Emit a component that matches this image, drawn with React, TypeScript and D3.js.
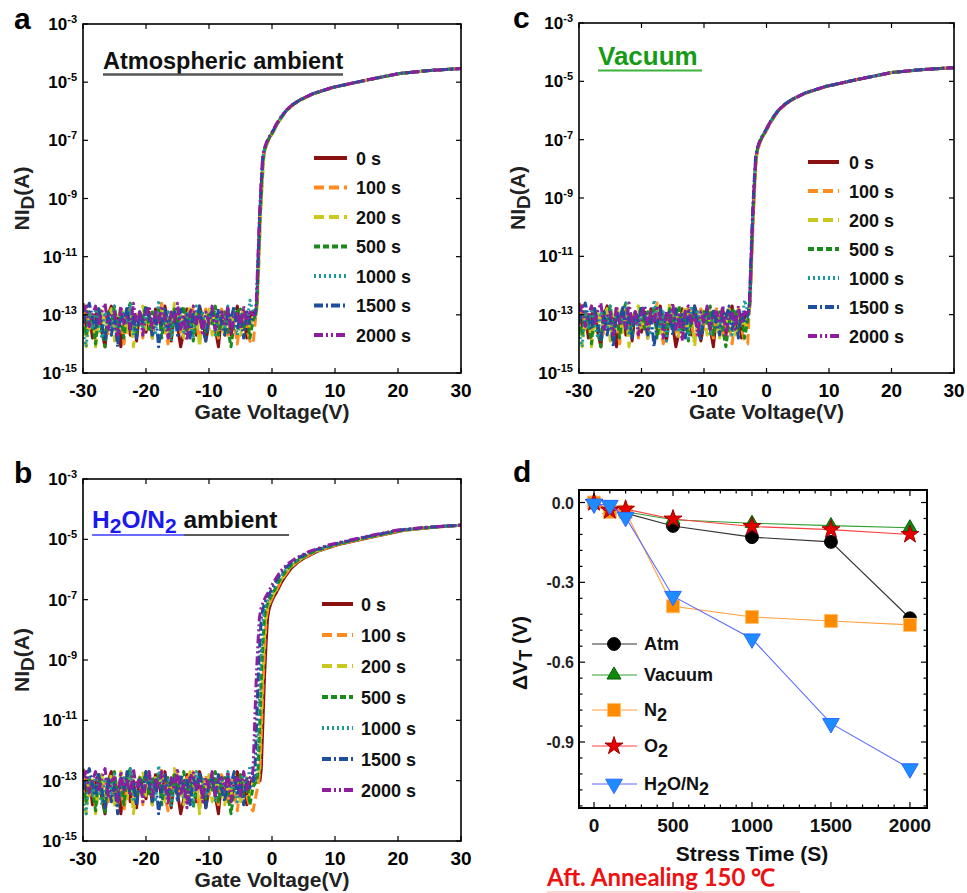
import React from 'react';
import * as d3 from 'd3';

// ---- transfer curves (panels a, b, c) ----
const stressLabels = ['0 s', '100 s', '200 s', '500 s', '1000 s', '1500 s', '2000 s'];
const curveColors = ['#8b1010', '#ff8a1e', '#c8c81e', '#1a8a1a', '#1a9a9a', '#1e4e9e', '#8e1e9e'];
const curveDash = ['', '10,5', '10,5', '6,3', '2,3', '9,3,2,3', '9,3,2,3,2,3'];

// off-state noise, log10(I) read every 0.5 V from -30 V
const gateStart = -30;
const gateStep = 0.5;
const offCurrent = [
  [-12.6, -13.4, -12.9, -13.8, -13.0, -12.8, -13.6, -14.1, -13.0, -12.7, -13.5, -13.1, -14.1, -13.3, -12.8, -13.7, -13.0, -13.9, -12.9, -13.2, -13.6, -12.9, -13.8, -12.8, -13.1, -13.5, -12.7, -13.3, -13.9, -13.0, -13.4, -14.1, -13.6, -12.8, -13.2, -12.9, -13.7, -12.7, -13.1, -13.9, -13.3, -12.8, -13.5, -14.1, -13.0, -13.4, -12.8, -13.7, -13.1, -12.7, -13.5, -13.0, -13.8, -13.1, -12.9],
  [-13.0, -12.7, -13.5, -13.1, -13.9, -12.8, -13.3, -13.0, -13.7, -12.8, -13.3, -13.8, -12.9, -14.0, -13.1, -12.7, -13.5, -13.1, -12.9, -13.8, -12.8, -13.3, -13.7, -12.9, -13.2, -12.6, -13.5, -14.0, -13.0, -13.3, -12.8, -13.6, -13.1, -12.9, -13.5, -12.7, -13.3, -13.9, -13.1, -12.8, -13.5, -12.9, -13.3, -13.8, -12.8, -13.1, -13.7, -12.9, -13.3, -14.0, -13.1, -12.8, -13.5, -13.9, -14.0],
  [-13.4, -14.1, -13.0, -12.9, -14.1, -13.3, -12.8, -13.7, -13.1, -12.8, -13.9, -13.2, -12.7, -13.1, -13.6, -12.9, -14.1, -13.3, -12.9, -12.7, -13.5, -13.0, -13.8, -12.9, -13.3, -12.7, -13.7, -13.1, -13.5, -12.6, -13.3, -12.9, -13.8, -13.1, -12.7, -13.5, -12.9, -14.1, -13.0, -13.3, -12.8, -13.7, -12.9, -13.3, -13.0, -13.8, -12.9, -13.5, -12.8, -13.1, -13.7, -13.2, -12.9, -13.5, -13.0],
  [-13.1, -13.7, -12.9, -13.3, -14.0, -12.8, -13.5, -14.1, -12.9, -13.3, -12.7, -13.5, -13.0, -13.8, -12.9, -12.6, -13.3, -13.7, -12.9, -13.1, -12.7, -13.5, -12.9, -13.3, -12.8, -13.8, -13.1, -12.9, -13.7, -12.8, -13.3, -13.0, -12.7, -13.6, -12.9, -13.9, -13.2, -12.8, -13.1, -13.6, -12.9, -13.3, -12.7, -13.7, -13.0, -12.9, -13.5, -14.1, -13.3, -12.9, -12.8, -13.5, -13.0, -13.8, -13.2],
  [-13.6, -14.1, -12.9, -13.5, -12.8, -13.3, -13.8, -12.9, -13.1, -13.5, -12.7, -13.9, -13.0, -12.9, -13.3, -12.6, -13.7, -13.1, -12.9, -13.5, -13.0, -12.7, -13.3, -13.7, -12.5, -13.1, -13.5, -12.9, -13.9, -13.2, -12.8, -13.1, -13.6, -12.9, -13.3, -13.8, -12.7, -13.1, -12.9, -13.5, -13.2, -12.8, -13.7, -13.0, -12.9, -13.5, -12.7, -13.3, -12.9, -13.7, -13.0, -12.8, -13.3, -12.5, -12.9],
  [-13.3, -12.9, -12.6, -13.1, -13.5, -12.8, -13.3, -13.9, -12.9, -13.7, -13.1, -14.1, -12.9, -13.3, -12.7, -13.5, -13.0, -13.8, -12.9, -13.3, -12.7, -13.1, -13.7, -12.9, -14.1, -13.3, -12.8, -13.5, -13.0, -12.9, -13.7, -12.8, -13.3, -13.0, -13.8, -12.9, -13.3, -12.7, -13.5, -13.9, -13.1, -12.9, -13.5, -12.8, -13.3, -13.7, -12.9, -13.1, -12.7, -13.5, -13.0, -13.8, -12.9, -13.3, -13.0],
  [-12.9, -12.7, -13.4, -13.0, -12.7, -13.3, -12.9, -12.6, -13.5, -13.0, -12.9, -13.7, -12.7, -13.3, -13.0, -13.5, -12.6, -13.3, -12.9, -13.7, -13.0, -12.7, -13.5, -12.9, -13.3, -12.7, -13.1, -13.8, -12.9, -13.3, -12.6, -13.5, -13.0, -13.9, -12.9, -12.7, -13.3, -13.0, -13.7, -12.9, -13.3, -12.7, -13.5, -13.0, -12.9, -13.3, -12.7, -13.7, -13.0, -12.9, -13.5, -12.7, -13.3, -12.9, -13.0],
];

// turn-on part of the 0 s curve in panel a
const gateOn = [-2.6, -2.4, -2.2, -1.9, -1.65, -1.4, -1.15, -0.8, -0.4, 0, 0.4, 0.75, 1.5, 2.3, 3.3, 4.4, 6.5, 9.7, 15, 20.3, 25, 30];
const logOn = [-13.0, -12.6, -11.4, -9.6, -8.5, -7.6, -7.3, -7.08, -6.9, -6.76, -6.6, -6.45, -6.2, -5.97, -5.78, -5.62, -5.4, -5.18, -4.93, -4.7, -4.6, -4.53];

// threshold shift of every curve (V)
const shiftA = [0, 0.05, 0.1, 0, -0.05, -0.05, -0.1];
const shiftC = [-0.25, -0.2, -0.25, -0.3, -0.3, -0.35, -0.3];
const shiftB = [0.7, 0.5, 0.4, 0.2, 0.0, -0.3, -0.6];

const gateTicks = [-30, -20, -10, 0, 10, 20, 30];
const currentTicks = [1e-3, 1e-5, 1e-7, 1e-9, 1e-11, 1e-13, 1e-15];

// ---- threshold shift vs stress time (panel d) ----
const stressTime = [0, 100, 200, 500, 1000, 1500, 2000];
const dvAtm = [0, -0.03, -0.04, -0.088, -0.13, -0.148, -0.435];
const dvVacuum = [0, -0.028, -0.035, -0.065, -0.078, -0.087, -0.095];
const dvN2 = [0, -0.035, -0.035, -0.39, -0.43, -0.445, -0.46];
const dvO2 = [0, -0.03, -0.025, -0.062, -0.09, -0.102, -0.12];
const dvH2O = [-0.005, -0.01, -0.055, -0.352, -0.512, -0.83, -1.0];
const dvTicks = [0, -0.3, -0.6, -0.9];
const timeTicks = [0, 500, 1000, 1500, 2000];

const FONT = "'Liberation Sans', Arial, Helvetica, sans-serif";

function TransferPanel({ id, left, top, right, bottom, shifts, legend }: any) {
  const x = d3.scaleLinear().domain([-30, 30]).range([left, right]);
  const y = d3.scaleLog().domain([1e-15, 1e-3]).range([bottom, top]);
  const line = d3
    .line<[number, number]>()
    .x((d) => x(d[0]))
    .y((d) => y(Math.pow(10, d[1])));

  const series = offCurrent.map((noise, i) => {
    const start = gateOn[0] + shifts[i];
    const pts: [number, number][] = [];
    noise.forEach((v, j) => {
      const g = gateStart + j * gateStep;
      if (g < start - 0.05) pts.push([g, v]);
    });
    gateOn.forEach((g, k) => {
      pts.push([k === gateOn.length - 1 ? 30 : g + shifts[i], logOn[k]]);
    });
    return pts;
  });

  const midY = (top + bottom) / 2;
  return (
    <g>
      <defs>
        <clipPath id={id}>
          <rect x={left} y={top} width={right - left} height={bottom - top} />
        </clipPath>
      </defs>
      <g clipPath={`url(#${id})`}>
        {series.map((pts, i) => (
          <path
            key={i}
            d={line(pts) || ''}
            fill="none"
            stroke={curveColors[i]}
            strokeWidth={3}
            strokeDasharray={curveDash[i]}
            strokeLinejoin="round"
          />
        ))}
      </g>
      <rect x={left} y={top} width={right - left} height={bottom - top} fill="none" stroke="#000" strokeWidth={1.6} />
      {gateTicks.map((t) => (
        <g key={t}>
          <line x1={x(t)} x2={x(t)} y1={bottom} y2={bottom - 5} stroke="#000" strokeWidth={1.2} />
          <line x1={x(t)} x2={x(t)} y1={top} y2={top + 5} stroke="#000" strokeWidth={1.2} />
          <text x={x(t)} y={bottom + 24} textAnchor="middle" fontSize={19} fontWeight="bold" fontFamily={FONT}>
            {t}
          </text>
        </g>
      ))}
      {currentTicks.map((t) => (
        <g key={t}>
          <line x1={left} x2={left + 5} y1={y(t)} y2={y(t)} stroke="#000" strokeWidth={1.2} />
          <line x1={right} x2={right - 5} y1={y(t)} y2={y(t)} stroke="#000" strokeWidth={1.2} />
          <text x={left - 6} y={y(t) + 6} textAnchor="end" fontSize={17} fontWeight="bold" fontFamily={FONT}>
            10
            <tspan dy={-7} fontSize={11}>
              {Math.round(Math.log10(t))}
            </tspan>
          </text>
        </g>
      ))}
      <text
        x={(left + right) / 2}
        y={bottom + 46}
        textAnchor="middle"
        fontSize={21}
        fontWeight="bold"
        fontFamily={FONT}
        fill="#222"
      >
        Gate Voltage(V)
      </text>
      <text
        transform={`translate(${left - 54},${midY}) rotate(-90)`}
        textAnchor="middle"
        fontSize={21}
        fontWeight="bold"
        fontFamily={FONT}
        fill="#222"
      >
        NI
        <tspan dy={5} fontSize={19}>
          D
        </tspan>
        <tspan dy={-5}>(A)</tspan>
      </text>
      {stressLabels.map((lab, i) => {
        const ly = legend.y + i * legend.gap;
        return (
          <g key={lab}>
            <line
              x1={legend.x1}
              x2={legend.x2}
              y1={ly}
              y2={ly}
              stroke={curveColors[i]}
              strokeWidth={4}
              strokeDasharray={curveDash[i]}
            />
            <text x={legend.tx} y={ly + 6.5} fontSize={18} fontWeight="bold" fontFamily={FONT} fill="#111">
              {lab}
            </text>
          </g>
        );
      })}
    </g>
  );
}

function ShiftPanel() {
  const left = 579;
  const right = 927;
  const top = 490;
  const bottom = 808;
  const x = d3.scaleLinear().domain([-95, 2108]).range([left, right]);
  const y = d3.scaleLinear().domain([-1.148, 0.047]).range([bottom, top]);
  const line = d3
    .line<number>()
    .x((_, i) => x(stressTime[i]))
    .y((d) => y(d));

  const series = [
    { name: 'Atm', values: dvAtm, line: '#333', fill: '#000', stroke: '#000', sym: d3.symbol().type(d3.symbolCircle).size(130)(), rot: 0 },
    { name: 'Vacuum', values: dvVacuum, line: '#2f9f2f', fill: '#0b8a0b', stroke: '#066006', sym: d3.symbol().type(d3.symbolTriangle).size(85)(), rot: 0 },
    { name: 'N2', values: dvN2, line: '#ffa040', fill: '#ff8c00', stroke: '#ffc070', sym: d3.symbol().type(d3.symbolSquare).size(170)(), rot: 0 },
    { name: 'O2', values: dvO2, line: '#ff4040', fill: '#e60000', stroke: '#a00000', sym: d3.symbol().type(d3.symbolStar).size(100)(), rot: 0 },
    { name: 'H2O/N2', values: dvH2O, line: '#5a6aff', fill: '#1e8cff', stroke: '#2a6aff', sym: d3.symbol().type(d3.symbolTriangle).size(120)(), rot: 180 },
  ];
  const legendY = [644, 675, 710, 746, 784];

  const minorY = d3.range(0, 20).map((k) => -0.06 * k).filter((v) => v > -1.148);
  const minorX = d3.range(0, 2001, 100);

  const label = (name: string) => {
    if (name === 'N2' || name === 'O2')
      return (
        <>
          {name[0]}
          <tspan dy={5}>2</tspan>
        </>
      );
    if (name === 'H2O/N2')
      return (
        <>
          H<tspan dy={5}>2</tspan>
          <tspan dy={-5}>O/N</tspan>
          <tspan dy={5}>2</tspan>
        </>
      );
    return name;
  };

  return (
    <g fontFamily={FONT}>
      {series.map((s) => (
        <g key={s.name}>
          <path d={line(s.values) || ''} fill="none" stroke={s.line} strokeWidth={1.1} />
          {s.values.map((v, i) => (
            <path
              key={i}
              d={s.sym || ''}
              transform={`translate(${x(stressTime[i])},${y(v)}) rotate(${s.rot})`}
              fill={s.fill}
              stroke={s.stroke}
              strokeWidth={1}
            />
          ))}
        </g>
      ))}
      <rect x={left} y={top} width={right - left} height={bottom - top} fill="none" stroke="#000" strokeWidth={2} />
      {minorY.map((v, i) => {
        const major = dvTicks.some((t) => Math.abs(t - v) < 1e-6);
        const len = major ? 6 : 3.5;
        return (
          <g key={i}>
            <line x1={left} x2={left + len} y1={y(v)} y2={y(v)} stroke="#000" strokeWidth={1.2} />
            <line x1={right} x2={right - len} y1={y(v)} y2={y(v)} stroke="#000" strokeWidth={1.2} />
          </g>
        );
      })}
      {minorX.map((v) => {
        const major = v % 500 === 0;
        const len = major ? 6 : 3.5;
        return (
          <g key={v}>
            <line x1={x(v)} x2={x(v)} y1={bottom} y2={bottom - len} stroke="#000" strokeWidth={1.2} />
            <line x1={x(v)} x2={x(v)} y1={top} y2={top + len} stroke="#000" strokeWidth={1.2} />
          </g>
        );
      })}
      {dvTicks.map((t) => (
        <text key={t} x={left - 5} y={y(t) + 6} textAnchor="end" fontSize={16} fontWeight="bold" fill="#222">
          {t === 0 ? '0.0' : t.toFixed(1)}
        </text>
      ))}
      {timeTicks.map((t) => (
        <text key={t} x={x(t)} y={bottom + 24} textAnchor="middle" fontSize={19} fontWeight="bold" fill="#111">
          {t}
        </text>
      ))}
      <text x={752} y={861} textAnchor="middle" fontSize={21} fontWeight="bold" fill="#111">
        Stress Time (S)
      </text>
      <text transform="translate(527,653) rotate(-90)" textAnchor="middle" fontSize={21} fontWeight="bold" fill="#111">
        ΔV<tspan dy={5} fontSize={18}>T</tspan>
        <tspan dy={-5}> (V)</tspan>
      </text>
      {series.map((s, i) => (
        <g key={s.name}>
          <line x1={592} x2={637} y1={legendY[i]} y2={legendY[i]} stroke={s.line} strokeWidth={1.1} />
          <path
            d={s.sym || ''}
            transform={`translate(614,${legendY[i]}) rotate(${s.rot})`}
            fill={s.fill}
            stroke={s.stroke}
            strokeWidth={1}
          />
          <text x={644} y={legendY[i] + 6} fontSize={18} fontWeight="bold" fill="#111">
            {label(s.name)}
          </text>
        </g>
      ))}
    </g>
  );
}

export default function App() {
  return (
    <svg
      width={967}
      height={893}
      style={{ position: 'absolute', left: 0, top: 0, background: '#fff' }}
      fontFamily={FONT}
    >
      <rect width={967} height={893} fill="#fff" />
      {/* panel letters */}
      <text x={14} y={29} fontSize={30} fontWeight="bold">a</text>
      <text x={513} y={28} fontSize={30} fontWeight="bold">c</text>
      <text x={14} y={483} fontSize={30} fontWeight="bold">b</text>
      <text x={513} y={482} fontSize={30} fontWeight="bold">d</text>

      <TransferPanel
        id="clipA"
        left={83}
        top={24}
        right={461}
        bottom={373}
        shifts={shiftA}
        legend={{ x1: 314, x2: 347, tx: 356, y: 158, gap: 29.5 }}
      />
      <TransferPanel
        id="clipC"
        left={579}
        top={23}
        right={954}
        bottom={373}
        shifts={shiftC}
        legend={{ x1: 808, x2: 839, tx: 849, y: 162, gap: 29 }}
      />
      <TransferPanel
        id="clipB"
        left={83}
        top={479}
        right={461}
        bottom={841}
        shifts={shiftB}
        legend={{ x1: 322, x2: 353, tx: 361, y: 604, gap: 31 }}
      />

      {/* titles */}
      <text x={103} y={69} fontSize={23.5} fontWeight="bold" fill="#111">
        Atmospheric ambient
      </text>
      <line x1={103} x2={343} y1={74.5} y2={74.5} stroke="#555" strokeWidth={2.5} />
      <text x={598} y={65} fontSize={26} fontWeight="bold" fill="#169b16">
        Vacuum
      </text>
      <line x1={598} x2={702} y1={70.5} y2={70.5} stroke="#3cb43c" strokeWidth={2} />
      <text x={92} y={528} fontSize={24.5} fontWeight="bold" fill="#1a1aee">
        H<tspan dy={5} fontSize={21}>2</tspan>
        <tspan dy={-5}>O/N</tspan>
        <tspan dy={5} fontSize={21}>2</tspan>
        <tspan dy={-5} fill="#111"> ambient</tspan>
      </text>
      <line x1={92} x2={184} y1={535} y2={535} stroke="#3a3aff" strokeWidth={1.5} />
      <line x1={184} x2={289} y1={535} y2={535} stroke="#222" strokeWidth={1.5} />

      <ShiftPanel />

      <text x={547} y={886} fontSize={24} fontWeight="bold" fill="#ee1111" fontFamily="Lato, 'Open Sans', sans-serif">
        Aft. Annealing 150 ℃
      </text>
      <line x1={547} x2={800} y1={892} y2={892} stroke="#f4b0b0" strokeWidth={1} />
    </svg>
  );
}
